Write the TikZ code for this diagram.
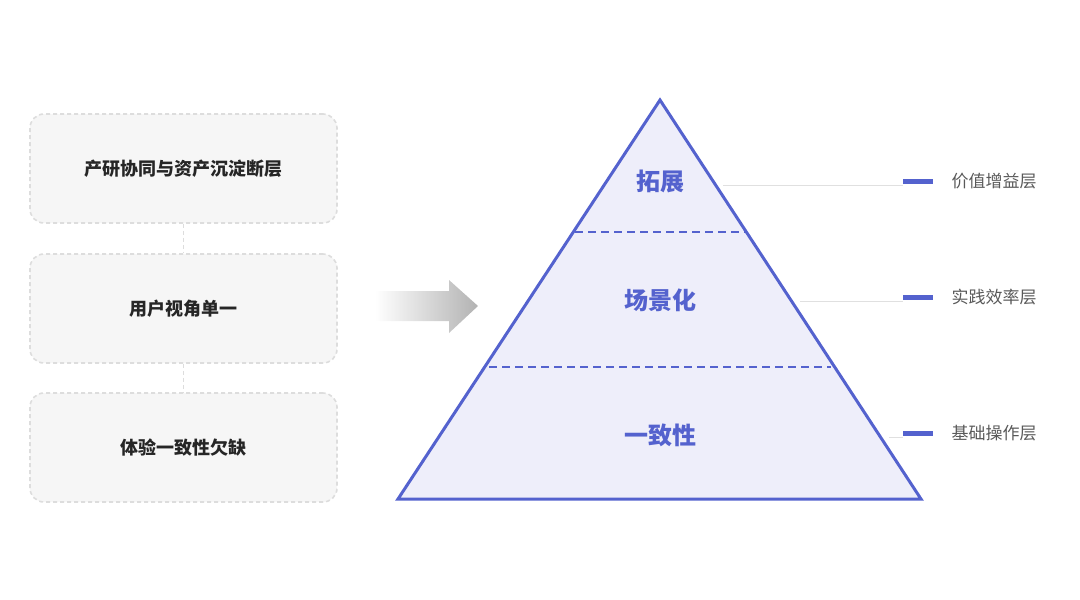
\documentclass[tikz,border=0pt]{standalone}
\usepackage{fontspec}
\newfontfamily\cjk{Noto Sans CJK SC}
\newfontfamily\cjkb{Noto Sans CJK SC Bold}
\definecolor{pblue}{HTML}{5462CE}
\definecolor{pfill}{HTML}{EEEEFA}
\definecolor{bfill}{HTML}{F6F6F6}
\definecolor{bline}{HTML}{DDDDDD}
\begin{document}
\begin{tikzpicture}[x=1pt,y=-1pt,
  probbox/.style={draw=bline,line width=1.6pt,dash pattern=on 4pt off 3pt,fill=bfill,rounded corners=14pt,minimum width=307pt,minimum height=109pt,font=\cjk\bfseries\fontsize{18}{20}\selectfont,text=black!85},
  lvl/.style={font=\cjk\bfseries\fontsize{24}{26}\selectfont,text=pblue},
  tag/.style={font=\cjk\fontsize{17}{20}\selectfont,text=black!65,anchor=west}]
\useasboundingbox (0,0) rectangle (1080,600);
\node[probbox] (b1) at (183.5,168.5) {产研协同与资产沉淀断层};
\node[probbox] (b2) at (183.5,308.5) {用户视角单一};
\node[probbox] (b3) at (183.5,447.5) {体验一致性欠缺};
\draw[bline,line width=1.6pt,dash pattern=on 4pt off 3pt] (b1.south) -- (b2.north);
\draw[bline,line width=1.6pt,dash pattern=on 4pt off 3pt] (b2.south) -- (b3.north);
% arrow
\shade[left color=white,right color=black!30,draw=none]
  (375,291) -- (449,291) -- (449,280) -- (478,306) -- (449,333) -- (449,321) -- (375,321) -- cycle;
% pyramid
\coordinate (apex) at (660,100);
\coordinate (bl) at (398,499);
\coordinate (br) at (921,499);
\filldraw[fill=pfill,draw=pblue,line width=3pt,line join=miter] (apex) -- (br) -- (bl) -- cycle;
\draw[pblue,line width=1.5pt,dash pattern=on 8pt off 5pt] (575,232) -- (745,232);
\draw[pblue,line width=1.5pt,dash pattern=on 8pt off 5pt] (489,367) -- (831,367);
\node[lvl] (l1) at (660,181) {拓展};
\node[lvl] (l2) at (660,300) {场景化};
\node[lvl] (l3) at (660,435) {一致性};
% tags
\foreach \y/\g/\t/\n in {181/723/价值增益层/t1,297/800/实践效率层/t2,433/889/基础操作层/t3}{
  \draw[black!12,line width=1pt] (\g,\y+4) -- (903,\y+4);
  \draw[pblue,line width=5pt] (903,\y) -- (933,\y);
  \node[tag] (\n) at (948,\y) {\t};
}
\end{tikzpicture}
\end{document}
